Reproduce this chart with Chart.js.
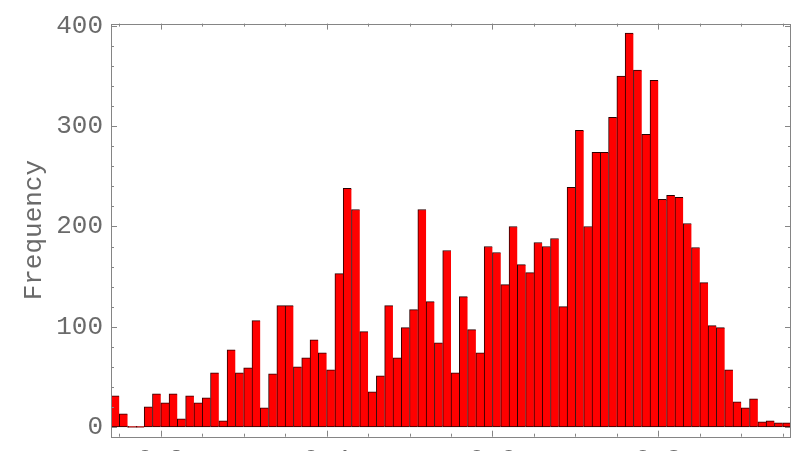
<!DOCTYPE html>
<html>
<head>
<meta charset="utf-8">
<script src="https://cdn.jsdelivr.net/npm/chart.js@4/dist/chart.umd.min.js"></script>
<style>
  html, body { margin: 0; padding: 0; background: #fff; overflow: hidden; }
  #wrap { width: 796px; height: 470px; position: relative; }
</style>
</head>
<body>
<div id="wrap"><canvas id="c" width="796" height="470"></canvas></div>
<script>
// ---- data ----
const frequencies = [
  31, 13, 0, 0, 20, 33, 24, 33, 8, 31,
  24, 29, 54, 6, 77, 54, 59, 106, 19, 53,
  121, 121, 60, 69, 87, 74, 57, 153, 238, 217,
  95, 35, 51, 121, 69, 99, 117, 217, 125, 84,
  176, 54, 130, 97, 74, 180, 174, 142, 200, 162,
  154, 184, 180, 188, 120, 239, 296, 200, 274, 274,
  309, 350, 393, 356, 292, 346, 227, 231, 229, 203,
  179, 144, 101, 99, 57, 25, 19, 28, 5, 6,
  4, 4
];
const binIndex = frequencies.map((v, i) => i + 0.5);      // bin centres (bin units)
const yTickValues = [0, 100, 200, 300, 400];
const yMinorStep = 20;
const xTickEdges = [6, 26, 46, 66];                          // labelled bin edges
const xTickLabels = ["0.2", "0.4", "0.6", "0.8"];
const xMinorEdges = [1, 11, 16, 21, 31, 36, 41, 51, 56, 61, 71, 76, 81];
const yAxisTitle = "Frequency";

const FONT = "'Liberation Mono', 'DejaVu Sans Mono', monospace";
const TEXT = '#6a6a6a';
const FRAME = '#858585';

const framePlugin = {
  id: 'frame',
  afterDatasetsDraw(chart) {
    const { ctx, chartArea: a, scales: { x, y } } = chart;
    ctx.save();
    ctx.strokeStyle = FRAME;
    ctx.lineWidth = 1;
    ctx.strokeRect(Math.round(a.left) + 0.5, Math.round(a.top) + 0.5,
                   Math.round(a.right - a.left) - 1, Math.round(a.bottom - a.top));
    ctx.beginPath();
    for (let v = 0; v <= 400; v += yMinorStep) {
      const p = Math.round(y.getPixelForValue(v)) + 0.5;
      const len = (v % 100 === 0) ? 6 : 3;
      ctx.moveTo(a.left, p); ctx.lineTo(a.left + len, p);
      ctx.moveTo(a.right, p); ctx.lineTo(a.right - len, p);
    }
    const all = xTickEdges.map(k => [k, 6]).concat(xMinorEdges.map(k => [k, 3]));
    all.forEach(([k, len]) => {
      const p = Math.round(x.getPixelForValue(k)) + 0.5;
      ctx.moveTo(p, a.bottom); ctx.lineTo(p, a.bottom - len);
      ctx.moveTo(p, a.top); ctx.lineTo(p, a.top + len);
    });
    ctx.stroke();
    ctx.restore();
  }
};

new Chart(document.getElementById('c'), {
  type: 'bar',
  data: {
    datasets: [{
      data: frequencies.map((v, i) => ({ x: binIndex[i], y: v })),
      backgroundColor: '#ff0000',
      borderColor: '#2a0000',
      borderWidth: { top: 1, left: 1, bottom: 1, right: 0 },
      borderSkipped: false,
      barPercentage: 1,
      categoryPercentage: 1,
      minBarLength: 1
    }]
  },
  options: {
    responsive: false,
    animation: false,
    layout: { padding: { left: 0, top: 16, right: 5, bottom: 0 } },
    plugins: { legend: { display: false }, tooltip: { enabled: false } },
    scales: {
      x: {
        type: 'linear',
        min: 0,
        max: frequencies.length,
        offset: false,
        grid: { display: false, drawTicks: false },
        border: { display: false },
        afterBuildTicks: s => { s.ticks = xTickEdges.map(v => ({ value: v })); },
        afterFit: s => { s.height = 470 - 436.7; },
        ticks: {
          autoSkip: false, maxRotation: 0, padding: 8,
          color: TEXT, font: { family: FONT, size: 26 },
          callback: v => { const i = xTickEdges.indexOf(v); return i >= 0 ? xTickLabels[i] : ''; }
        }
      },
      y: {
        min: -9.8,
        max: 402.5,
        grid: { display: false, drawTicks: false },
        border: { display: false },
        afterBuildTicks: s => { s.ticks = yTickValues.map(v => ({ value: v })); },
        afterFit: s => { s.width = 111; },
        ticks: { padding: 8, color: TEXT, font: { family: FONT, size: 26 } },
        title: {
          display: true, text: yAxisTitle, color: TEXT,
          font: { family: FONT, size: 26 },
          padding: { top: 19, bottom: 0 }
        }
      }
    }
  },
  plugins: [framePlugin]
});
</script>
</body>
</html>
